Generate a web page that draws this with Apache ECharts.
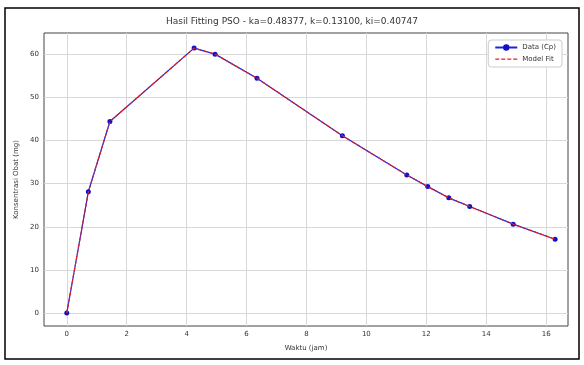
<!DOCTYPE html>
<html><head><meta charset="utf-8">
<script src="https://cdn.jsdelivr.net/npm/echarts@6/dist/echarts.min.js"></script>
<style>html,body{margin:0;padding:0;background:#fff}#c{width:584px;height:365px}</style>
</head><body><div id="c"></div>
<script>
const timeJam = [0, 0.72, 1.44, 4.25, 4.95, 6.35, 9.2, 11.35, 12.05, 12.75, 13.45, 14.9, 16.3];
const dataCp = [0, 28.1, 44.4, 61.4, 60.0, 54.4, 41.1, 32.0, 29.3, 26.7, 24.7, 20.6, 17.1];
const modelFit = [0, 28.1, 44.4, 61.4, 60.0, 54.4, 41.1, 32.0, 29.3, 26.7, 24.7, 20.6, 17.1];
const xTicks = [0, 2, 4, 6, 8, 10, 12, 14, 16];
const yTicks = [0, 10, 20, 30, 40, 50, 60];
const titleText = 'Hasil Fitting PSO - ka=0.48377, k=0.13100, ki=0.40747';

const F = 'DejaVu Sans';
const TXT = '#333';
const dashIcon = 'path://M0,0L0.01,0L0.01,0.01Z M0,8L0.01,8L0.01,7.99Z M0,3.4h4v1.3h-4z M6,3.4h4v1.3h-4z M12,3.4h4v1.3h-4z M18,3.4h4v1.3h-4z';
const chart = echarts.init(document.getElementById('c'), null, {renderer: 'canvas'});
const pair = (xs, ys) => xs.map((x, i) => [x, ys[i]]);
chart.setOption({
  animation: false,
  backgroundColor: '#fff',
  title: {text: titleText, left: 'center', top: 12, textStyle: {fontFamily: F, fontSize: 9, fontWeight: 'normal', color: TXT}},
  grid: {left: 44, right: 16, top: 33, bottom: 39, show: true, borderColor: '#444', borderWidth: 1},
  legend: {
    right: 22, top: 40, orient: 'vertical', itemWidth: 22, itemHeight: 8, itemGap: 4,
    backgroundColor: '#fff', borderColor: '#ccc', borderWidth: 1, borderRadius: 3, padding: [4, 6],
    textStyle: {fontFamily: F, fontSize: 7, color: TXT},
    data: [{name: 'Data (Cp)'}, {name: 'Model Fit', icon: dashIcon, itemStyle: {color: '#e02020'}}]
  },
  xAxis: {
    type: 'value', min: -0.76, max: 16.73,
    name: 'Waktu (jam)', nameLocation: 'middle', nameGap: 19,
    nameTextStyle: {fontFamily: F, fontSize: 7, color: TXT},
    axisLine: {show: false},
    axisTick: {show: true, customValues: xTicks, length: 3, lineStyle: {color: '#444'}},
    axisLabel: {customValues: xTicks, fontFamily: F, fontSize: 7, color: TXT, margin: 5},
    splitLine: {show: false}
  },
  yAxis: {
    type: 'value', min: -3, max: 64.9,
    name: 'Konsentrasi Obat (mg)', nameLocation: 'middle', nameGap: 22,
    nameTextStyle: {fontFamily: F, fontSize: 7, color: TXT},
    axisLine: {show: false},
    axisTick: {show: true, customValues: yTicks, length: 3, lineStyle: {color: '#444'}},
    axisLabel: {customValues: yTicks, fontFamily: F, fontSize: 7, color: TXT, margin: 5},
    splitLine: {show: false}
  },
  series: [
    {
      name: 'Data (Cp)', type: 'line', data: pair(timeJam, dataCp),
      symbol: 'circle', symbolSize: 5, itemStyle: {color: '#1010c8'},
      lineStyle: {color: '#2020e0', width: 1.2}, z: 3,
      markLine: {
        silent: true, symbol: 'none', label: {show: false},
        lineStyle: {color: '#d8d8d8', width: 1, type: 'solid'}, z: 1,
        data: xTicks.map(v => ({xAxis: v})).concat(yTicks.map(v => ({yAxis: v})))
      }
    },
    {
      name: 'Model Fit', type: 'line', data: pair(timeJam, modelFit),
      symbol: 'none', lineStyle: {color: '#e02020', width: 1.2, type: [4, 2]},
      itemStyle: {color: '#e02020'}, z: 4
    }
  ],
  graphic: [{type: 'rect', shape: {x: 5, y: 8, width: 574, height: 351}, style: {fill: null, stroke: '#000', lineWidth: 1.5}, silent: true}]
});
</script></body></html>
